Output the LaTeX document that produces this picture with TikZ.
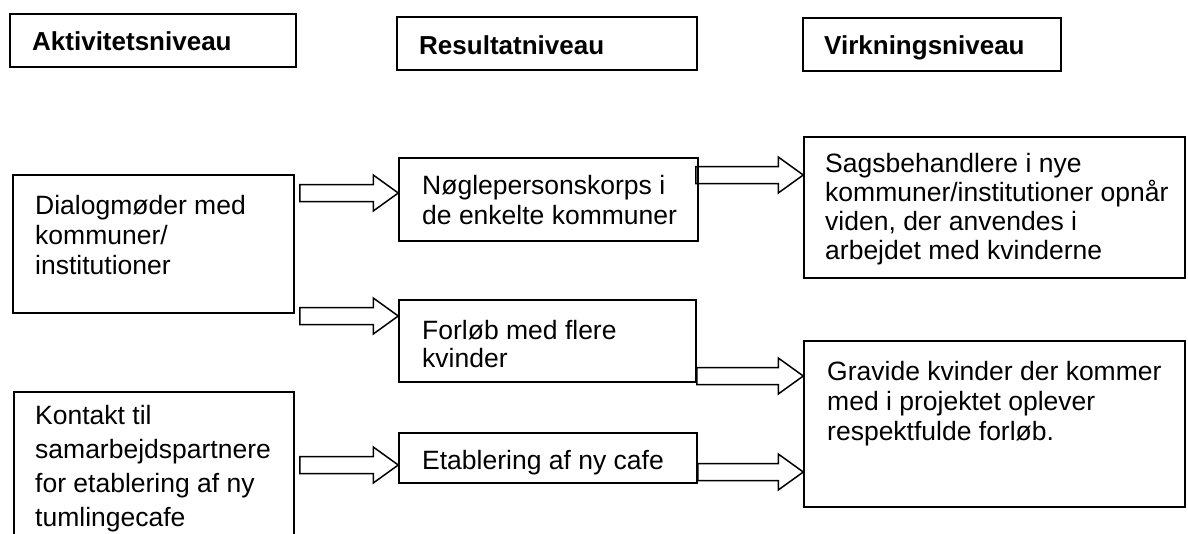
\documentclass[tikz,border=0pt]{standalone}
\usepackage{fontspec}
\setmainfont{Liberation Sans}
\usetikzlibrary{calc}
\begin{document}
\begin{tikzpicture}[x=1pt,y=-1pt]
	\tikzstyle{Box} = [draw, line width=1.5pt, inner sep=0pt]
	\tikzstyle{Head} = [draw, line width=2pt, inner sep=0pt, minimum height=53pt]
	\tikzstyle{Txt} = [anchor=north west, inner sep=0pt, align=left, font=\fontsize{26.5}{30}\selectfont]
	\tikzstyle{HeadTxt} = [anchor=north west, inner sep=0pt, font=\fontsize{26}{30}\selectfont\bfseries]
	\tikzset{Arrow/.style={line width=1.5pt, to path={let \p1=(\tikztostart), \p2=(\tikztotarget) in
		(\x1+#1,\y1+8.5pt) -- (\x2-25pt,\y1+8.5pt) -- (\x2-25pt,\y1+18pt) -- (\x2,\y1)
		-- (\x2-25pt,\y1-18pt) -- (\x2-25pt,\y1-8.5pt) -- (\x1+#1,\y1-8.5pt) -- cycle}}}
	\useasboundingbox (0,0) rectangle (1188,533);
	\clip (0,0) rectangle (1188,533);
	% headings
	\node (h1) at (153,40.5) [Head, minimum width=286pt] {};
	\node (h1t) at (32,31.5) [HeadTxt] {Aktivitetsniveau};
	\node (h2) at (547,43.5) [Head, minimum width=300pt] {};
	\node (h2t) at (419,35) [HeadTxt] {Resultatniveau};
	\node (h3) at (932,44.5) [Head, minimum width=258pt] {};
	\node (h3t) at (824,35) [HeadTxt] {Virkningsniveau};
	% activities
	\node (a1) at (153.5,244) [Box, minimum width=281pt, minimum height=138pt] {};
	\node (a1t) at (35,195) [Txt] {Dialogmøder med\\kommuner/\\institutioner};
	\node (a2) at (154,476) [Box, minimum width=280pt, minimum height=168pt] {};
	\node (a2t) at (35,405) [Txt, font=\fontsize{26.5}{34}\selectfont] {Kontakt til\\samarbejdspartnere\\for etablering af ny\\tumlingecafe};
	% results
	\node (r1) at (548.5,199.5) [Box, minimum width=299pt, minimum height=83pt] {};
	\node (r1t) at (422,175) [Txt] {Nøglepersonskorps i\\de enkelte kommuner};
	\node (r2) at (547.5,341) [Box, minimum width=297pt, minimum height=82pt] {};
	\node (r2t) at (422,320) [Txt, font=\fontsize{26.5}{28.5}\selectfont] {Forløb med flere\\kvinder};
	\node (r3) at (548,458) [Box, minimum width=298pt, minimum height=50pt] {};
	\node (r3t) at (422,450) [Txt] {Etablering af ny cafe};
	% effects
	\node (v1) at (994.5,207.5) [Box, minimum width=381pt, minimum height=141pt] {};
	\node (v1t) at (825,153) [Txt, font=\fontsize{26.5}{29}\selectfont] {Sagsbehandlere i nye\\kommuner/institutioner opnår\\viden, der anvendes i\\arbejdet med kvinderne};
	\node (v2) at (994.5,424) [Box, minimum width=381pt, minimum height=166pt] {};
	\node (v2t) at (827,361) [Txt] {Gravide kvinder der kommer\\med i projektet oplever\\respektfulde forløb.};
	% block arrows
	\draw [Arrow=5pt] (a1.east |- 0,193) to (r1.west |- 0,193);
	\draw [Arrow=5pt] (a1.east |- 0,316) to (r2.west |- 0,316);
	\draw [Arrow=5pt] (a2.east |- 0,465) to (r3.west |- 0,465);
	\draw [Arrow=-3pt] (r1.east |- 0,175) to (v1.west |- 0,175);
	\draw [Arrow=0pt] (r2.east |- 0,376) to (v2.west |- 0,376);
	\draw [Arrow=0pt] (r3.east |- 0,472) to (v2.west |- 0,472);
\end{tikzpicture}
\end{document}
